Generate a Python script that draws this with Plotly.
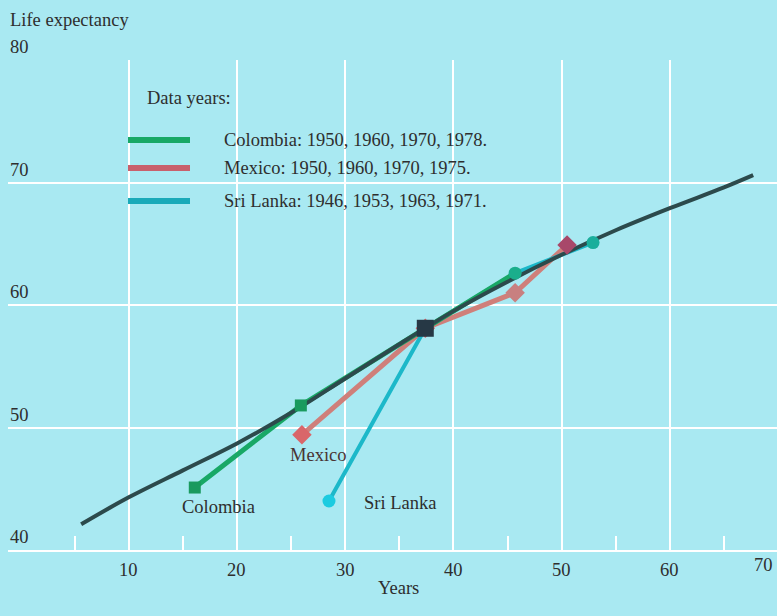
import plotly.graph_objects as go

# ---- data ----
curve_x = [5.6, 10, 15, 20, 25, 30, 35, 40, 45, 50, 55, 60, 65, 67.7]
curve_y = [42.1, 44.3, 46.5, 48.7, 51.2, 54.0, 56.8, 59.5, 61.9, 64.1, 66.1, 67.9, 69.6, 70.6]

colombia_x = [16.1, 25.9, 37.4, 45.7]
colombia_y = [45.1, 51.8, 58.1, 62.6]

mexico_x = [26.0, 37.4, 45.7, 50.5]
mexico_y = [49.4, 58.1, 61.0, 64.9]

srilanka_x = [28.5, 37.4, 45.7, 52.9]
srilanka_y = [44.0, 58.1, 62.6, 65.1]

common_x = [37.4]
common_y = [58.1]

x_ticks = [10, 20, 30, 40, 50, 60, 70]
y_ticks = [40, 50, 60, 70, 80]
minor_x = [5, 15, 25, 35, 45, 55, 65]

legend_labels = [
    "Colombia: 1950, 1960, 1970, 1978.",
    "Mexico: 1950, 1960, 1970, 1975.",
    "Sri Lanka: 1946, 1953, 1963, 1971.",
]

# ---- style ----
BG = "#a9e9f2"
FONT = "Liberation Serif"
TXT = "#2e2e2e"
C_COL = "#18a866"
C_MEX = "#cf7f7a"
C_SRI = "#1cb8c9"
C_CURVE = "#2c4a4c"
FS = 18.5

W, H = 777, 616
ML, MR, MT, MB = 8, 0, 60, 66
PW, PH = W - ML - MR, H - MT - MB


def px(xp):
    return (xp - ML) / PW


def py(yp):
    return (H - MB - yp) / PH


fig = go.Figure()

fig.add_trace(go.Scatter(x=mexico_x, y=mexico_y, mode="lines",
                         line=dict(color=C_MEX, width=5), name="Mexico", showlegend=False))
fig.add_trace(go.Scatter(x=srilanka_x, y=srilanka_y, mode="lines",
                         line=dict(color=C_SRI, width=4), name="Sri Lanka", showlegend=False))
fig.add_trace(go.Scatter(x=colombia_x, y=colombia_y, mode="lines",
                         line=dict(color=C_COL, width=5), name="Colombia", showlegend=False))
fig.add_trace(go.Scatter(x=curve_x, y=curve_y, mode="lines", line_shape="spline",
                         line=dict(color=C_CURVE, width=4), name="curve", showlegend=False))

fig.add_trace(go.Scatter(x=colombia_x[:3], y=colombia_y[:3], mode="markers",
                         marker=dict(symbol="square", size=12, color="#1a9a5e"), showlegend=False))
fig.add_trace(go.Scatter(x=mexico_x, y=mexico_y, mode="markers",
                         marker=dict(symbol="diamond", size=15, color=["#d9666a", "#d9666a", "#c88080", "#a8486a"]),
                         showlegend=False))
fig.add_trace(go.Scatter(x=srilanka_x[:1] + srilanka_x[2:], y=srilanka_y[:1] + srilanka_y[2:], mode="markers",
                         marker=dict(symbol="circle", size=13, color=["#1ccbe0", "#1aae8c", "#1aae9c"]),
                         showlegend=False))
fig.add_trace(go.Scatter(x=common_x, y=common_y, mode="markers",
                         marker=dict(symbol="square", size=17, color="#263845"), showlegend=False))

shapes = []
annotations = []

# legend
annotations.append(dict(xref="paper", yref="paper", x=px(145), y=py(98), text="Data years:",
                        showarrow=False, xanchor="left", yanchor="middle",
                        font=dict(family=FONT, size=FS, color=TXT)))
legend_rows = [140, 168, 201]
legend_colors = [C_COL, "#c8606c", "#1aaab9"]
for lab, yy, col in zip(legend_labels, legend_rows, legend_colors):
    shapes.append(dict(type="line", xref="paper", yref="paper", x0=px(128), x1=px(190),
                       y0=py(yy), y1=py(yy), line=dict(color=col, width=6)))
    annotations.append(dict(xref="paper", yref="paper", x=px(222), y=py(yy), text=lab,
                            showarrow=False, xanchor="left", yanchor="middle",
                            font=dict(family=FONT, size=FS, color=TXT)))

# series labels
for lab, xp, yp, col in [("Colombia", 218, 507, TXT), ("Mexico", 318, 455, "#4a3434"),
                         ("Sri Lanka", 400, 503, TXT)]:
    annotations.append(dict(xref="paper", yref="paper", x=px(xp), y=py(yp), text=lab,
                            showarrow=False, xanchor="center", yanchor="middle",
                            font=dict(family=FONT, size=FS, color=col)))

# y tick labels
for v in y_ticks:
    annotations.append(dict(xref="paper", yref="y", x=0, y=v, text=str(v), showarrow=False,
                            xanchor="left", yanchor="bottom", yshift=1,
                            font=dict(family=FONT, size=FS, color=TXT)))
# x tick labels
for v in x_ticks[:-1]:
    annotations.append(dict(xref="x", yref="paper", x=v, y=0, text=str(v), showarrow=False,
                            xanchor="center", yanchor="middle", yshift=-20,
                            font=dict(family=FONT, size=FS, color=TXT)))
annotations.append(dict(xref="paper", yref="paper", x=1, y=0, text=str(x_ticks[-1]), showarrow=False,
                        xanchor="right", xshift=-2, yanchor="middle", yshift=-15,
                        font=dict(family=FONT, size=FS, color=TXT)))

annotations.append(dict(xref="paper", yref="paper", x=px(398), y=py(588), text="Years",
                        showarrow=False, xanchor="center", yanchor="middle",
                        font=dict(family=FONT, size=FS, color=TXT)))
annotations.append(dict(xref="paper", yref="paper", x=px(8), y=py(20), text="Life expectancy",
                        showarrow=False, xanchor="left", yanchor="middle",
                        font=dict(family=FONT, size=FS, color=TXT)))

fig.update_layout(
    width=W, height=H,
    margin=dict(l=ML, r=MR, t=MT, b=MB),
    paper_bgcolor=BG, plot_bgcolor=BG,
    showlegend=False,
    shapes=shapes, annotations=annotations,
    xaxis=dict(range=[-1.16, 69.9], tickvals=x_ticks, showticklabels=False,
               showgrid=True, gridcolor="white", gridwidth=1.5, zeroline=False,
               showline=True, linecolor="white", linewidth=2,
               minor=dict(tickvals=minor_x, ticks="inside", ticklen=14, tickcolor="white", tickwidth=1.5,
                          showgrid=False)),
    yaxis=dict(range=[40, 80], tickvals=y_ticks, showticklabels=False, showgrid=True,
               gridcolor="white", gridwidth=1.5, zeroline=False, showline=False),
)

fig.write_html("out.html", config={"displayModeBar": False},
               post_script="document.body.style.margin='0';document.body.style.background='%s';" % BG)
